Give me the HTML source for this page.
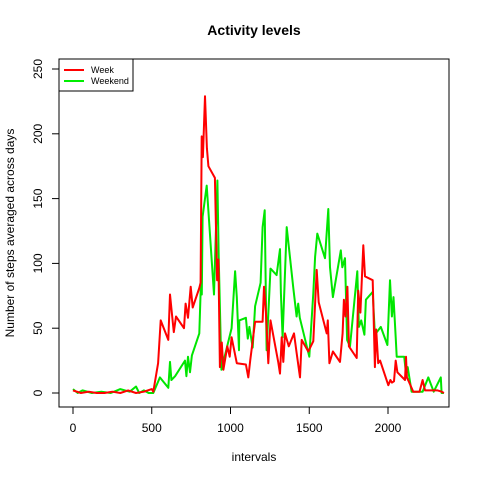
<!DOCTYPE html>
<html><head><meta charset="utf-8"><style>
body{margin:0;background:#fff}
svg{display:block;font-family:"Liberation Sans",Arial,sans-serif}
</style></head><body>
<svg id="chart" width="480" height="480">
<rect width="480" height="480" fill="#fff"/>
<text x="254" y="35" text-anchor="middle" font-size="14" font-weight="bold">Activity levels</text>
<text x="254" y="461" text-anchor="middle" font-size="12">intervals</text>
<text transform="translate(14,233) rotate(-90)" text-anchor="middle" font-size="12">Number of steps averaged across days</text>
<g id="axes"></g>
<g id="series"></g>
<rect x="59" y="59" width="390" height="348" fill="none" stroke="#000" stroke-width="1"/>
<g>
<rect x="59" y="59" width="74" height="32" fill="#fff" stroke="#000"/>
<g><line x1="64" y1="70" x2="84" y2="70" stroke="#f00" stroke-width="2"/><text x="91" y="73" font-size="9">Week</text></g>
<g><line x1="64" y1="81" x2="84" y2="81" stroke="#0e0" stroke-width="2"/><text x="91" y="84" font-size="9">Weekend</text></g>
</g>
</svg>
<script>
const xTicks=[0,500,1000,1500,2000];
const yTicks=[0,50,100,150,200,250];
const weekIntervals=[0,50,100,150,200,250,300,350,400,450,500,510,540,557,605,616,630,640,654,705,715,730,747,760,802,810,817,825,838,850,860,901,915,923,933,945,955,980,995,1007,1040,1098,1113,1125,1156,1204,1213,1225,1240,1254,1303,1314,1325,1335,1346,1370,1403,1420,1441,1452,1494,1510,1526,1547,1560,1611,1618,1628,1650,1695,1712,1720,1730,1742,1752,1801,1811,1825,1843,1854,1903,1917,1925,1938,1950,2002,2015,2025,2038,2049,2060,2108,2114,2120,2135,2160,2200,2220,2235,2278,2315,2341,2355];
const weekValues=[2,0,1,0,0,1,0,2,0,1,3,1,23,56,41,76,59,47,59,50,69,58,82,66,81,85,198,182,229,189,175,166,87,103,20,39,18,36,28,43,23,22,12,25,55,55,82,62,23,56,24,15,43,24,46,36,46,31,12,41,32,36,40,95,70,46,56,23,32,24,46,72,59,82,36,27,79,62,114,90,87,20,49,23,25,6,10,8,9,25,16,10,28,12,8,1,1,10,2,2,2,1,0];
const weekendIntervals=[0,30,60,120,180,240,300,360,400,420,450,480,510,552,605,616,625,648,711,720,730,743,755,802,813,818,823,849,895,917,925,942,971,1007,1029,1040,1054,1056,1098,1110,1120,1141,1156,1191,1204,1217,1229,1254,1293,1314,1320,1331,1357,1399,1420,1430,1440,1500,1526,1537,1551,1600,1621,1632,1650,1700,1710,1727,1740,1759,1805,1815,1830,1850,1860,1903,1917,1954,1996,2013,2025,2035,2049,2055,2103,2115,2125,2150,2220,2256,2290,2335,2340,2355];
const weekendValues=[3,0,2,0,1,0,3,1,5,0,2,0,0,12,4,24,10,13,25,13,28,16,29,46,87,76,136,160,76,164,105,18,32,50,94,74,33,56,58,42,51,35,67,85,128,141,33,96,91,111,77,43,128,81,59,69,58,28,77,105,123,104,142,97,74,110,97,104,41,36,94,51,56,45,72,78,45,51,37,87,59,74,43,28,28,14,20,1,1,12,1,12,0,0];
const X0=59,X1=449,Y0=59,Y1=407;
function xs(v){return 73+v*0.1575;}
function ys(v){return 393-v*1.296;}
const NS="http://www.w3.org/2000/svg";
const axes=document.getElementById('axes');
function mk(t,a,p){const e=document.createElementNS(NS,t);for(const k in a)e.setAttribute(k,a[k]);p.appendChild(e);return e;}
mk('line',{x1:xs(0),x2:xs(2000),y1:Y1,y2:Y1,stroke:'#000'},axes);
xTicks.forEach(t=>{
 mk('line',{x1:xs(t),x2:xs(t),y1:Y1,y2:Y1+7,stroke:'#000'},axes);
 const tx=mk('text',{x:xs(t),y:432,'text-anchor':'middle','font-size':12},axes);tx.textContent=t;
 
 
});
mk('line',{x1:X0,x2:X0,y1:ys(0),y2:ys(250),stroke:'#000'},axes);
yTicks.forEach(t=>{
 mk('line',{x1:X0-7,x2:X0,y1:ys(t),y2:ys(t),stroke:'#000'},axes);
 const tx=mk('text',{transform:`translate(42,${ys(t)}) rotate(-90)`,'text-anchor':'middle','font-size':12},axes);tx.textContent=t;
 
 
});
const sg=document.getElementById('series');
function line(xsArr,vals,col,name){
 const pts=xsArr.map((x,i)=>xs(x).toFixed(1)+','+ys(vals[i]).toFixed(1)).join(' ');
 const p=mk('polyline',{points:pts,fill:'none',stroke:col,'stroke-width':2,'stroke-linejoin':'round'},sg);
 
 
}
line(weekendIntervals,weekendValues,'#00e600','weekend-line');
line(weekIntervals,weekValues,'#ff0000','week-line');
</script>
</body></html>
